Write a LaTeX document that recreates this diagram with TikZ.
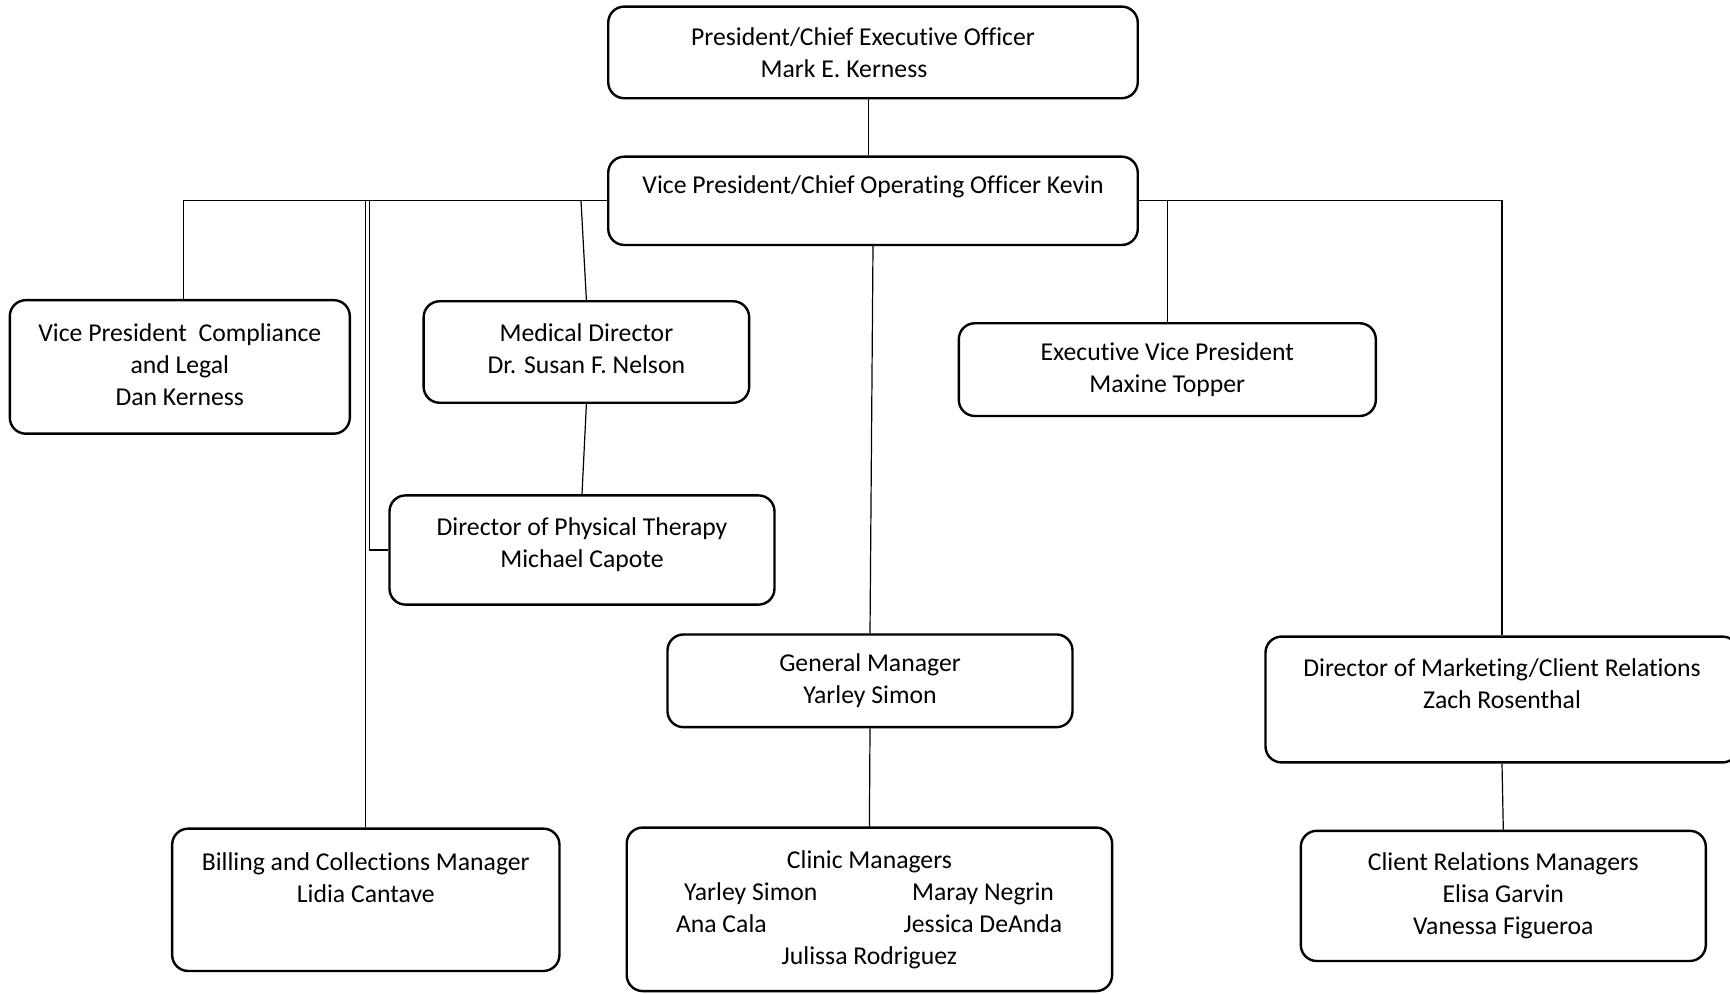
\documentclass[tikz,border=0pt]{standalone}
\usepackage{fontspec}
\setmainfont{Carlito}[Ligatures=NoCommon]

\begin{document}
\begin{tikzpicture}[
        x=0.5pt, y=-0.5pt,
        font=\fontsize{12.85pt}{16pt}\selectfont,
        box/.style={rectangle, draw, rounded corners=8pt, line width=1.2pt, inner sep=0pt, align=center},
        link/.style={line width=0.6pt}
    ]
        \useasboundingbox (0,0) rectangle (1730,993);

        % Nodes
        \node[box, minimum width=264.75pt, minimum height=45.8pt] (ceo) at (873,52.4)
            {President/Chief Executive Officer\hspace*{10pt}\\Mark E. Kerness\hspace*{29pt}};
        \node[box, minimum width=264.75pt, minimum height=44.15pt] (coo) at (873,200.8)
            {Vice President/Chief Operating Officer Kevin\\ \mbox{}};
        \node[box, minimum width=170pt, minimum height=66.75pt, text depth=2.2pt] (vpcl) at (179.8,366.9)
            {Vice President~ Compliance\\and Legal\\Dan Kerness};
        \node[box, minimum width=162.75pt, minimum height=50.75pt, text depth=3.3pt] (md) at (586.4,352)
            {Medical Director\\Dr. Susan F. Nelson};
        \node[box, minimum width=192.5pt, minimum height=54.6pt, text depth=7pt] (pt) at (582,550)
            {Director of Physical Therapy\\Michael Capote};
        \node[box, minimum width=208.5pt, minimum height=46.35pt] (evp) at (1167.3,369.6)
            {Executive Vice President\\Maxine Topper};
        \node[box, minimum width=202.5pt, minimum height=46.35pt] (gm) at (870,680.8)
            {General Manager\\Yarley Simon};
        \node[box, minimum width=236.5pt, minimum height=62.9pt] (dmcr) at (1502,699.5)
            {Director of Marketing/Client Relations\\Zach Rosenthal\\ \mbox{}};
        \node[box, minimum width=193.65pt, minimum height=71.15pt, text depth=6.6pt] (bcm) at (365.8,899.8)
            {Billing and Collections Manager\\Lidia Cantave\\ \mbox{}};
        \node[box, minimum width=242.7pt, minimum height=81.75pt] (cm) at (869.4,909.3)
            {Clinic Managers\\
             \makebox[113.6pt][l]{Yarley Simon}\makebox[71.8pt][c]{Maray Negrin}\\
             \makebox[113.6pt][l]{\hspace*{-4pt}Ana Cala}\makebox[71.8pt][c]{Jessica DeAnda}\\
             Julissa Rodriguez};
        \node[box, minimum width=202.5pt, minimum height=65.1pt] (crm) at (1503.3,895.9)
            {Client Relations Managers\\Elisa Garvin\\Vanessa Figueroa};

        % Connectors
        \coordinate (ceofoot) at ([xshift=-2.2pt]ceo.south);
        \draw[link] (ceofoot) -- (ceofoot |- coo.north);
        \draw[link] (coo.west) -| ([xshift=2pt]vpcl.north);
        \draw[link] (coo.west) -| (bcm.north);
        \draw[link] (pt.west) -- ++(-18.5,0) |- (coo.west);
        \path (md.north |- coo.west) ++(-5.4,0) coordinate (mdjoin);
        \draw[link] (md.north) -- (mdjoin);
        \draw[link] (md.south) -- (pt.north);
        \draw[link] (coo.south) -- (gm.north);
        \draw[link] (gm.south) -- (cm.north);
        \draw[link] (coo.east) -| (evp.north);
        \draw[link] (coo.east) -| (dmcr.north);
        \draw[link] (dmcr.south) -- (crm.north);
    \end{tikzpicture}
\end{document}
